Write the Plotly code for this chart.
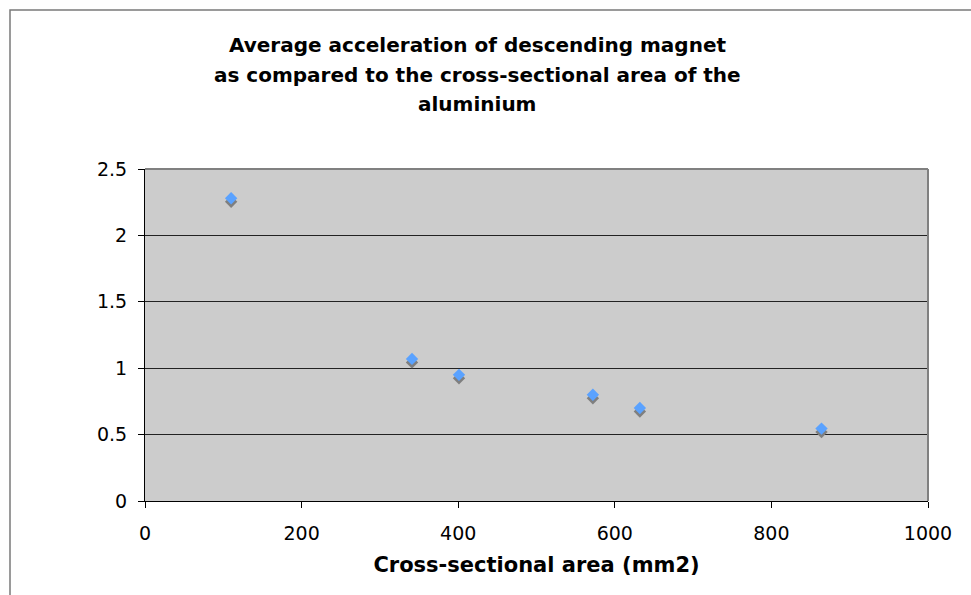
import plotly.graph_objects as go

# Data
area_mm2 = [110, 341, 401, 572, 632, 864]
avg_accel = [2.28, 1.07, 0.95, 0.80, 0.70, 0.545]

title_lines = [
    "Average acceleration of descending magnet",
    "as compared to the cross-sectional area of the",
    "aluminium",
]
x_title = "Cross-sectional area (mm2)"
x_ticks = [0, 200, 400, 600, 800, 1000]
y_ticks = [0, 0.5, 1, 1.5, 2, 2.5]
y_tick_text = ["0", "0.5", "1", "1.5", "2", "2.5"]

W, H = 971, 595
L, R, T, B = 145, 43, 169, 94
plot_h = H - T - B
y_range = [0, 2.5]
shadow_dy = 3.5 * (y_range[1] - y_range[0]) / plot_h

FONT = "DejaVu Sans"

fig = go.Figure()
fig.add_trace(go.Scatter(
    x=area_mm2, y=[v - shadow_dy for v in avg_accel], mode="markers",
    marker=dict(symbol="diamond", size=9.5, color="#7f7f7f", line=dict(width=0)),
    hoverinfo="skip", showlegend=False,
))
fig.add_trace(go.Scatter(
    x=area_mm2, y=avg_accel, mode="markers",
    marker=dict(symbol="diamond", size=9.5, color="#5aa2ff", line=dict(width=0)),
    showlegend=False,
))

fig.update_layout(
    width=W, height=H,
    margin=dict(l=L, r=R, t=T, b=B),
    paper_bgcolor="white",
    plot_bgcolor="#cccccc",
    font=dict(family=FONT, color="black", size=19),
    xaxis=dict(
        range=[0, 1000], tickvals=x_ticks, ticks="outside", ticklen=6,
        tickcolor="black", showline=True, linecolor="black", linewidth=1,
        showgrid=False, zeroline=False,
        tickfont=dict(size=19, family=FONT),
        ticklabelstandoff=9,
        title=dict(text="<b>" + x_title + "</b>", font=dict(size=21, family=FONT), standoff=14),
    ),
    yaxis=dict(
        range=y_range, tickvals=y_ticks, ticktext=y_tick_text, ticks="outside",
        ticklen=6, tickcolor="black", showline=True, linecolor="black",
        linewidth=1, showgrid=True, gridcolor="#222222", gridwidth=1,
        zeroline=False, tickfont=dict(size=19, family=FONT),
        ticklabelstandoff=7,
    ),
)

# plot area top/right border (gray)
fig.add_shape(type="line", xref="paper", yref="paper", x0=0, x1=1, y0=1, y1=1,
              line=dict(color="#808080", width=2))
fig.add_shape(type="line", xref="paper", yref="paper", x0=1, x1=1, y0=0, y1=1,
              line=dict(color="#808080", width=2))

# chart area border (left and top visible)
plot_w = W - L - R
def px_x(p):
    return (p - L) / plot_w
def px_y(p):
    return (H - B - p) / plot_h
fig.add_shape(type="rect", xref="paper", yref="paper",
              x0=px_x(10), x1=px_x(W + 20), y0=px_y(H + 20), y1=px_y(10),
              line=dict(color="#7a7a7a", width=1.5), fillcolor="rgba(0,0,0,0)",
              layer="below")

title_y = [45, 75, 104]
for txt, yy in zip(title_lines, title_y):
    fig.add_annotation(text="<b>" + txt + "</b>", xref="paper", yref="paper",
                       x=px_x(477), y=px_y(yy), xanchor="center", yanchor="middle",
                       showarrow=False, font=dict(size=20, family=FONT, color="black"))

fig.write_html("out.html")
